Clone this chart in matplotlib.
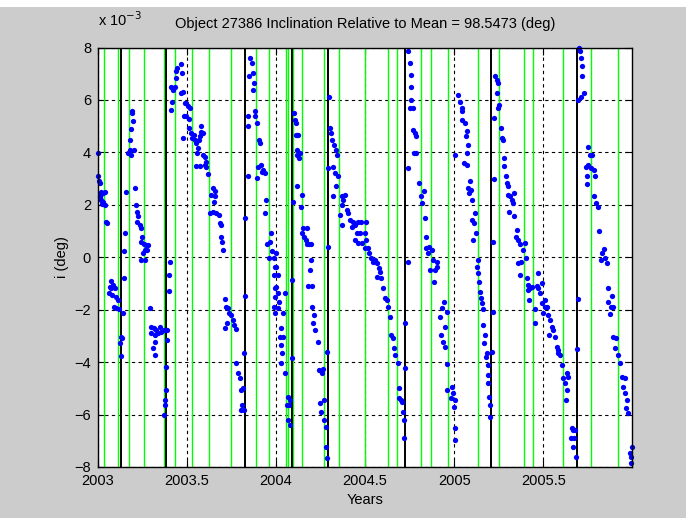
import matplotlib
matplotlib.use('Agg')
import matplotlib.pyplot as plt
from matplotlib.patches import Rectangle

plt.rcParams['font.family'] = ['Liberation Sans', 'DejaVu Sans']

# inclination residuals (x 1e-3 deg), grouped by half year
t_03a = [2003.002, 2003.002, 2003.004, 2003.009, 2003.015, 2003.019, 2003.028, 2003.037, 2003.009, 2003.019,
         2003.028, 2003.041, 2003.022, 2003.047, 2003.052,
         2003.071, 2003.066, 2003.075, 2003.084, 2003.094, 2003.060, 2003.079, 2003.103, 2003.112, 2003.090,
         2003.103, 2003.116,
         2003.127, 2003.135, 2003.122, 2003.131, 2003.140, 2003.146,
         2003.154, 2003.146, 2003.159,
         2003.169, 2003.178, 2003.187, 2003.202, 2003.178, 2003.184, 2003.197, 2003.191, 2003.191,
         2003.206, 2003.212, 2003.221, 2003.225, 2003.217, 2003.234, 2003.240, 2003.249, 2003.243, 2003.258,
         2003.272, 2003.266, 2003.253, 2003.262, 2003.240, 2003.281, 2003.277,
         2003.290, 2003.300, 2003.315, 2003.328, 2003.346, 2003.356, 2003.300, 2003.318, 2003.337, 2003.371,
         2003.390, 2003.322, 2003.309, 2003.318, 2003.390,
         2003.403, 2003.397, 2003.399, 2003.380, 2003.384, 2003.375, 2003.378, 2003.371,
         2003.412, 2003.421, 2003.431, 2003.438, 2003.446, 2003.464, 2003.472, 2003.478, 2003.464, 2003.440,
         2003.416, 2003.408, 2003.487, 2003.483, 2003.478]
i_03a = [3.97, 3.08, 2.89, 2.82, 2.5, 2.4, 2.45, 2.5, 2.3, 2.2, 2.1, 2.0, 2.05, 1.36, 1.32,
         -0.89, -1.12, -1.18, -1.06, -1.18, -1.37, -1.44, -1.5, -1.63, -1.88, -1.95, -1.98,
         -3.03, -3.09, -3.28, -3.77, -2.14, -0.80,
         0.92, 0.25, 2.5,
         3.97, 4.1, 3.9, 4.1, 4.48, 4.89, 5.18, 5.5, 5.56,
         2.63, 2.0, 1.74, 1.58, 1.36, 1.23, 1.11, 0.79, 0.60, 0.51, 0.47, 0.28, 0.15, -0.10, -0.10, 0.47, 0.28,
         -1.95, -2.67, -2.71, -2.77, -2.65, -2.84, -2.90, -2.96, -2.90, -2.77, -2.77, -3.22, -3.47, -3.73, -3.16,
         -0.2, -0.67, -1.27, -4.17, -5.06, -5.45, -5.64, -6.02,
         6.51, 6.39, 6.51, 7.09, 7.21, 7.38, 7.02, 6.32, 6.26, 6.83, 5.94, 5.62, 5.88, 5.37, 4.54]

t_03b = [2003.496, 2003.506, 2003.515, 2003.496, 2003.509, 2003.509, 2003.524, 2003.539, 2003.543, 2003.528,
         2003.553, 2003.562, 2003.577, 2003.581, 2003.590, 2003.571, 2003.566, 2003.558, 2003.553, 2003.571,
         2003.590, 2003.603, 2003.609, 2003.599, 2003.609, 2003.618,
         2003.646, 2003.656, 2003.633, 2003.659, 2003.652, 2003.627, 2003.646, 2003.665, 2003.678, 2003.684,
         2003.689, 2003.693, 2003.697, 2003.702,
         2003.715, 2003.721, 2003.730, 2003.734, 2003.749, 2003.727, 2003.712, 2003.764, 2003.772, 2003.759,
         2003.777, 2003.787, 2003.796, 2003.802, 2003.815, 2003.809, 2003.817, 2003.805,
         2003.820, 2003.824, 2003.824,
         2003.852, 2003.862, 2003.871, 2003.847, 2003.877, 2003.871, 2003.843, 2003.843, 2003.880, 2003.884,
         2003.890, 2003.903, 2003.908, 2003.914, 2003.899, 2003.927, 2003.936, 2003.921, 2003.895, 2003.843,
         2003.944, 2003.936,
         2003.974, 2003.965, 2003.951, 2003.978, 2003.959, 2003.989, 2003.993, 2003.989, 2003.996, 2003.993,
         2003.989, 2003.996]
i_03b = [5.88, 5.75, 5.69, 5.37, 5.27, 4.92, 4.73, 4.67, 4.48, 4.54, 4.35, 4.16, 4.99, 4.76, 4.73, 4.61, 4.48,
         3.97, 3.49, 3.49, 3.91, 3.84, 3.65, 3.52, 3.46, 3.18,
         2.63, 2.51, 2.38, 2.32, 2.09, 1.70, 1.74, 1.70, 1.62, 1.30, 1.23, 0.79, 0.60, 0.28,
         -1.60, -1.88, -1.95, -2.14, -2.20, -2.52, -2.71, -2.58, -2.75, -2.39,
         -4.05, -4.43, -4.62, -5.06, -5.00, -5.64, -5.83, -5.83,
         -3.66, -1.48, 1.49,
         7.6, 7.40, 7.02, 6.90, 6.64, 6.39, 5.37, 4.99, 5.56, 5.37, 5.11, 4.48, 4.35, 3.52, 3.46, 3.33, 3.21,
         3.27, 3.02, 3.08,
         2.19, 1.70,
         0.92, 0.60, 0.51, 0.25, -0.04, -0.04, -0.36, -0.67, -1.18, -1.50, -1.88, -2.14]

t_04a = [2004.002, 2004.002, 2004.008, 2004.002, 2004.012, 2004.015, 2004.008, 2004.040, 2004.027, 2004.040,
         2004.021, 2004.030, 2004.034, 2004.027, 2004.049,
         2004.049, 2004.068, 2004.077, 2004.072, 2004.059, 2004.068, 2004.077,
         2004.090, 2004.090, 2004.096,
         2004.102, 2004.105, 2004.109, 2004.109, 2004.115, 2004.124, 2004.115, 2004.120, 2004.128, 2004.133,
         2004.120, 2004.147, 2004.139,
         2004.152, 2004.171, 2004.158, 2004.165, 2004.171, 2004.184, 2004.195, 2004.143,
         2004.195, 2004.190, 2004.180, 2004.203,
         2004.203, 2004.214, 2004.208, 2004.221, 2004.233,
         2004.265, 2004.240, 2004.255, 2004.270, 2004.246, 2004.251, 2004.270, 2004.278, 2004.278, 2004.283,
         2004.283, 2004.293,
         2004.296, 2004.302, 2004.308, 2004.315, 2004.326, 2004.334, 2004.339, 2004.321, 2004.293, 2004.330,
         2004.349, 2004.334, 2004.321, 2004.368, 2004.377, 2004.386, 2004.368, 2004.358, 2004.396, 2004.405,
         2004.414, 2004.433, 2004.424, 2004.442, 2004.461, 2004.476, 2004.452, 2004.471, 2004.442, 2004.461,
         2004.484, 2004.499, 2004.499, 2004.368]
i_04a = [0.15, -0.36, -0.67, -1.12, -1.37, -1.69, -1.95, -2.14, -2.71, -3.03, -3.03, -3.35, -3.66, -4.02, -1.37,
         -4.43, -5.32, -5.45, -5.64, -5.64, -6.21, -6.40,
         -3.85, -0.87, 2.09,
         5.50, 5.24, 5.11, 4.67, 4.67, 4.67, 4.10, 3.91, 3.78, 3.97, 2.70, 2.38, 1.93,
         1.11, 1.11, 0.79, 0.66, 0.51, 0.51, 0.51, 0.92,
         -0.10, -0.48, -1.09, -1.09,
         -1.88, -2.20, -2.49, -2.77, -3.22,
         -4.27, -4.30, -4.43, -5.45, -5.57, -5.89, -6.21, -6.46, -7.23, -7.67,
         -3.60, 0.41,
         6.11, 4.92, 4.73, 4.48, 4.29, 4.10, 3.91, 3.46, 3.40, 3.21, 3.08, 2.70, 2.32, 2.32, 2.19, 2.38, 2.00,
         1.62, 1.81, 1.68, 1.42, 1.36, 1.17, 1.23, 1.36, 1.36, 0.92, 0.92, 0.66, 0.53, 0.53, 0.92, 0.34, 1.23]

t_04b = [2004.507, 2004.507, 2004.517, 2004.520, 2004.535, 2004.545, 2004.554, 2004.569, 2004.577, 2004.582,
         2004.564, 2004.588, 2004.601, 2004.610, 2004.620, 2004.629, 2004.638, 2004.644, 2004.657, 2004.663,
         2004.670, 2004.682, 2004.689, 2004.700, 2004.708, 2004.689, 2004.713, 2004.719, 2004.719,
         2004.726, 2004.726, 2004.738, 2004.741,
         2004.741, 2004.751, 2004.756, 2004.756, 2004.760, 2004.751, 2004.770, 2004.770, 2004.779, 2004.788,
         2004.775, 2004.788, 2004.801, 2004.831, 2004.816, 2004.820, 2004.835, 2004.839, 2004.844, 2004.858,
         2004.873, 2004.850, 2004.882, 2004.901, 2004.906, 2004.891, 2004.888, 2004.863,
         2004.944, 2004.932, 2004.957, 2004.919, 2004.947, 2004.925, 2004.938, 2004.947, 2004.962,
         2004.989, 2004.994, 2004.981, 2005.004, 2005.000, 2004.962,
         2005.004, 2005.004, 2005.007]
i_04b = [1.36, 0.66, 0.34, 0.15, -0.04, -0.17, -0.10, -0.23, -0.42, -0.55, -0.74, -0.80, -1.18, -1.57, -1.63,
         -1.88, -2.26, -2.96, -3.09, -3.47, -3.73, -4.05, -5.00, -5.45, -5.51, -5.38, -5.89, -6.21, -6.91,
         -2.52, -4.24, -0.17, 3.40,
         7.85, 7.40, 6.96, 6.51, 6.01, 5.69, 5.69, 4.86, 4.73, 4.61, 3.97, 3.97, 2.82, 2.51, 2.32, 2.06, 1.49,
         0.79, 0.34, 0.41, 0.28, 0.15, -0.10, -0.17, -0.36, -0.48, -0.93, -0.48,
         -1.69, -1.95, -2.07, -2.26, -2.65, -2.96, -3.22, -3.41, -4.07,
         -4.94, -5.19, -5.38, -5.45, -5.70, -5.06,
         -6.53, -6.97, 3.91]

t_05a = [2005.023, 2005.032, 2005.045, 2005.041, 2005.045, 2005.060, 2005.070, 2005.064, 2005.075, 2005.070,
         2005.056, 2005.070, 2005.088, 2005.079, 2005.094, 2005.083, 2005.098, 2005.116, 2005.101, 2005.113,
         2005.120, 2005.107,
         2005.131, 2005.126, 2005.135, 2005.139, 2005.144, 2005.150, 2005.154, 2005.163,
         2005.163, 2005.173, 2005.169, 2005.182, 2005.176, 2005.188, 2005.191, 2005.191, 2005.195, 2005.201,
         2005.201,
         2005.210, 2005.219, 2005.219, 2005.225, 2005.225,
         2005.229, 2005.238, 2005.244, 2005.238, 2005.251, 2005.247, 2005.262, 2005.270, 2005.276, 2005.281,
         2005.281, 2005.289, 2005.294, 2005.304, 2005.300, 2005.313, 2005.322, 2005.332, 2005.337, 2005.307,
         2005.337, 2005.350, 2005.345, 2005.360, 2005.369, 2005.397, 2005.388, 2005.375, 2005.360, 2005.401,
         2005.369, 2005.407,
         2005.416, 2005.425, 2005.435, 2005.412, 2005.463, 2005.472, 2005.495, 2005.482, 2005.420, 2005.453,
         2005.472, 2005.495, 2005.510, 2005.500, 2005.453]
i_05a = [6.2, 5.94, 5.69, 5.56, 5.24, 5.11, 4.80, 4.61, 4.29, 3.97, 3.59, 3.53, 2.89, 2.63, 2.57, 2.44, 2.19,
         1.70, 1.42, 1.30, 0.92, 0.66,
         -0.10, -0.36, -0.61, -0.93, -1.31, -1.57, -1.76, -1.98,
         -2.58, -2.96, -3.28, -3.66, -3.79, -4.11, -4.49, -4.81, -5.32, -5.64, -6.08,
         -3.60, -2.07, 0.60, 2.98, 5.31,
         6.90, 6.77, 6.64, 6.26, 5.82, 5.69, 4.92, 4.54, 4.48, 3.78, 3.49, 3.08, 2.82, 2.70, 2.38, 2.32, 2.19,
         2.06, 2.44, 1.74, 1.58, 1.04, 0.79, 0.66, 0.51, 0.53, 0.28, -0.17, -0.23, -0.04, -0.67, -0.80,
         -1.06, -1.18, -1.12, -1.25, -1.09, -1.18, -0.99, -1.37, -1.63, -1.98, -0.61, -1.76, -1.88, -2.14, -2.52]

t_05b = [2005.510, 2005.519, 2005.529, 2005.538, 2005.547, 2005.557, 2005.532, 2005.566, 2005.576, 2005.585,
         2005.594, 2005.581, 2005.604, 2005.613, 2005.632, 2005.641, 2005.622, 2005.632, 2005.626,
         2005.660, 2005.669, 2005.679, 2005.656, 2005.675, 2005.664, 2005.682, 2005.692, 2005.697,
         2005.701, 2005.707, 2005.712, 2005.720, 2005.720, 2005.731, 2005.712, 2005.697, 2005.750, 2005.763,
         2005.776, 2005.753, 2005.738, 2005.768, 2005.782, 2005.791, 2005.744, 2005.744,
         2005.787, 2005.795, 2005.806,
         2005.813, 2005.843, 2005.832, 2005.825, 2005.847, 2005.856,
         2005.862, 2005.885, 2005.866, 2005.881, 2005.894, 2005.875,
         2005.894, 2005.907, 2005.903, 2005.918, 2005.931, 2005.941, 2005.956, 2005.950, 2005.959, 2005.969,
         2005.967, 2005.974,
         2005.997, 2005.987, 2005.993, 2005.993]
i_05b = [-1.63, -1.88, -2.20, -2.39, -2.65, -2.77, -2.96, -3.03, -3.41, -3.54, -3.73, -3.66, -4.11, -4.62,
         -4.43, -4.55, -4.81, -5.06, -5.45,
         -6.53, -6.59, -6.59, -6.91, -6.91, -7.23, -7.61, -3.51, -1.60,
         8.0, 7.85, 7.6, 7.28, 6.90, 6.26, 6.13, 6.0, 4.22, 3.91, 3.91, 3.52, 3.46, 3.40, 3.33, 3.08, 3.08, 2.80,
         2.32, 2.06, 1.93,
         1.02, 0.31, 0.15, -0.10, -0.04, -0.23,
         -1.18, -1.48, -1.69, -1.88, -1.88, -2.18,
         -3.03, -3.09, -3.47, -3.73, -4.05, -4.55, -4.62, -4.94, -5.19, -5.45, -5.76, -5.95,
         -7.23, -7.48, -7.61, -7.86]

# event markers
green_t = [2003.034, 2003.110, 2003.174, 2003.258, 2003.368, 2003.433, 2003.525, 2003.625, 2003.748,
           2003.888, 2003.958, 2004.058, 2004.066, 2004.097, 2004.144, 2004.270, 2004.351, 2004.497,
           2004.627, 2004.676, 2004.813, 2004.869, 2004.967, 2005.131, 2005.253, 2005.389, 2005.444,
           2005.608, 2005.769, 2005.921]
black_t = [2003.130, 2003.382, 2003.828, 2004.089, 2004.289, 2004.726, 2005.206, 2005.688]

xticks = [2003, 2003.5, 2004, 2004.5, 2005, 2005.5]
xtick_labels = ['2003', '2003.5', '2004', '2004.5', '2005', '2005.5']
yticks = [-8, -6, -4, -2, 0, 2, 4, 6, 8]

fig = plt.figure(figsize=(6.86, 5.18), dpi=100, facecolor='#cccccc')
fig.patches.append(Rectangle((0, 1 - 7 / 518), 1, 7 / 518, transform=fig.transFigure,
                             facecolor='white', edgecolor='none'))
ax = fig.add_axes([98 / 686, 1 - 467 / 518, 534 / 686, 419.5 / 518])

for x in green_t:
    ax.axvline(x, color='#00ff00', lw=1.0, zorder=2)
for x in black_t:
    ax.axvline(x, color='black', lw=1.4, zorder=2)

for t, v in [(t_03a, i_03a), (t_03b, i_03b), (t_04a, i_04a),
             (t_04b, i_04b), (t_05a, i_05a), (t_05b, i_05b)]:
    ax.plot(t, v, 'o', color='blue', ms=3.8, mec='none', zorder=3, clip_on=False)

ax.set_xlim(2003, 2005.998)
ax.set_ylim(-8, 8)
ax.set_xticks(xticks)
ax.set_xticklabels(xtick_labels)
ax.set_yticks(yticks)
ax.grid(True, color='black', linestyle=(0, (3, 3)), linewidth=0.8)
ax.set_axisbelow(True)
ax.tick_params(direction='in', top=True, right=True, length=5, labelsize=10.5, pad=5)
for s in ax.spines.values():
    s.set_linewidth(1.0)
    s.set_zorder(4)

ax.set_title('Object 27386 Inclination Relative to Mean = 98.5473 (deg)', fontsize=10.5, pad=14)
ax.text(0, 1.045, r'x 10$^{-3}$', transform=ax.transAxes, fontsize=10.5, va='bottom', ha='left')
ax.set_xlabel('Years', fontsize=10.5, labelpad=4)
ax.set_ylabel('i (deg)', fontsize=10.5, labelpad=4)

fig.savefig('out.png', dpi=100, facecolor=fig.get_facecolor())
